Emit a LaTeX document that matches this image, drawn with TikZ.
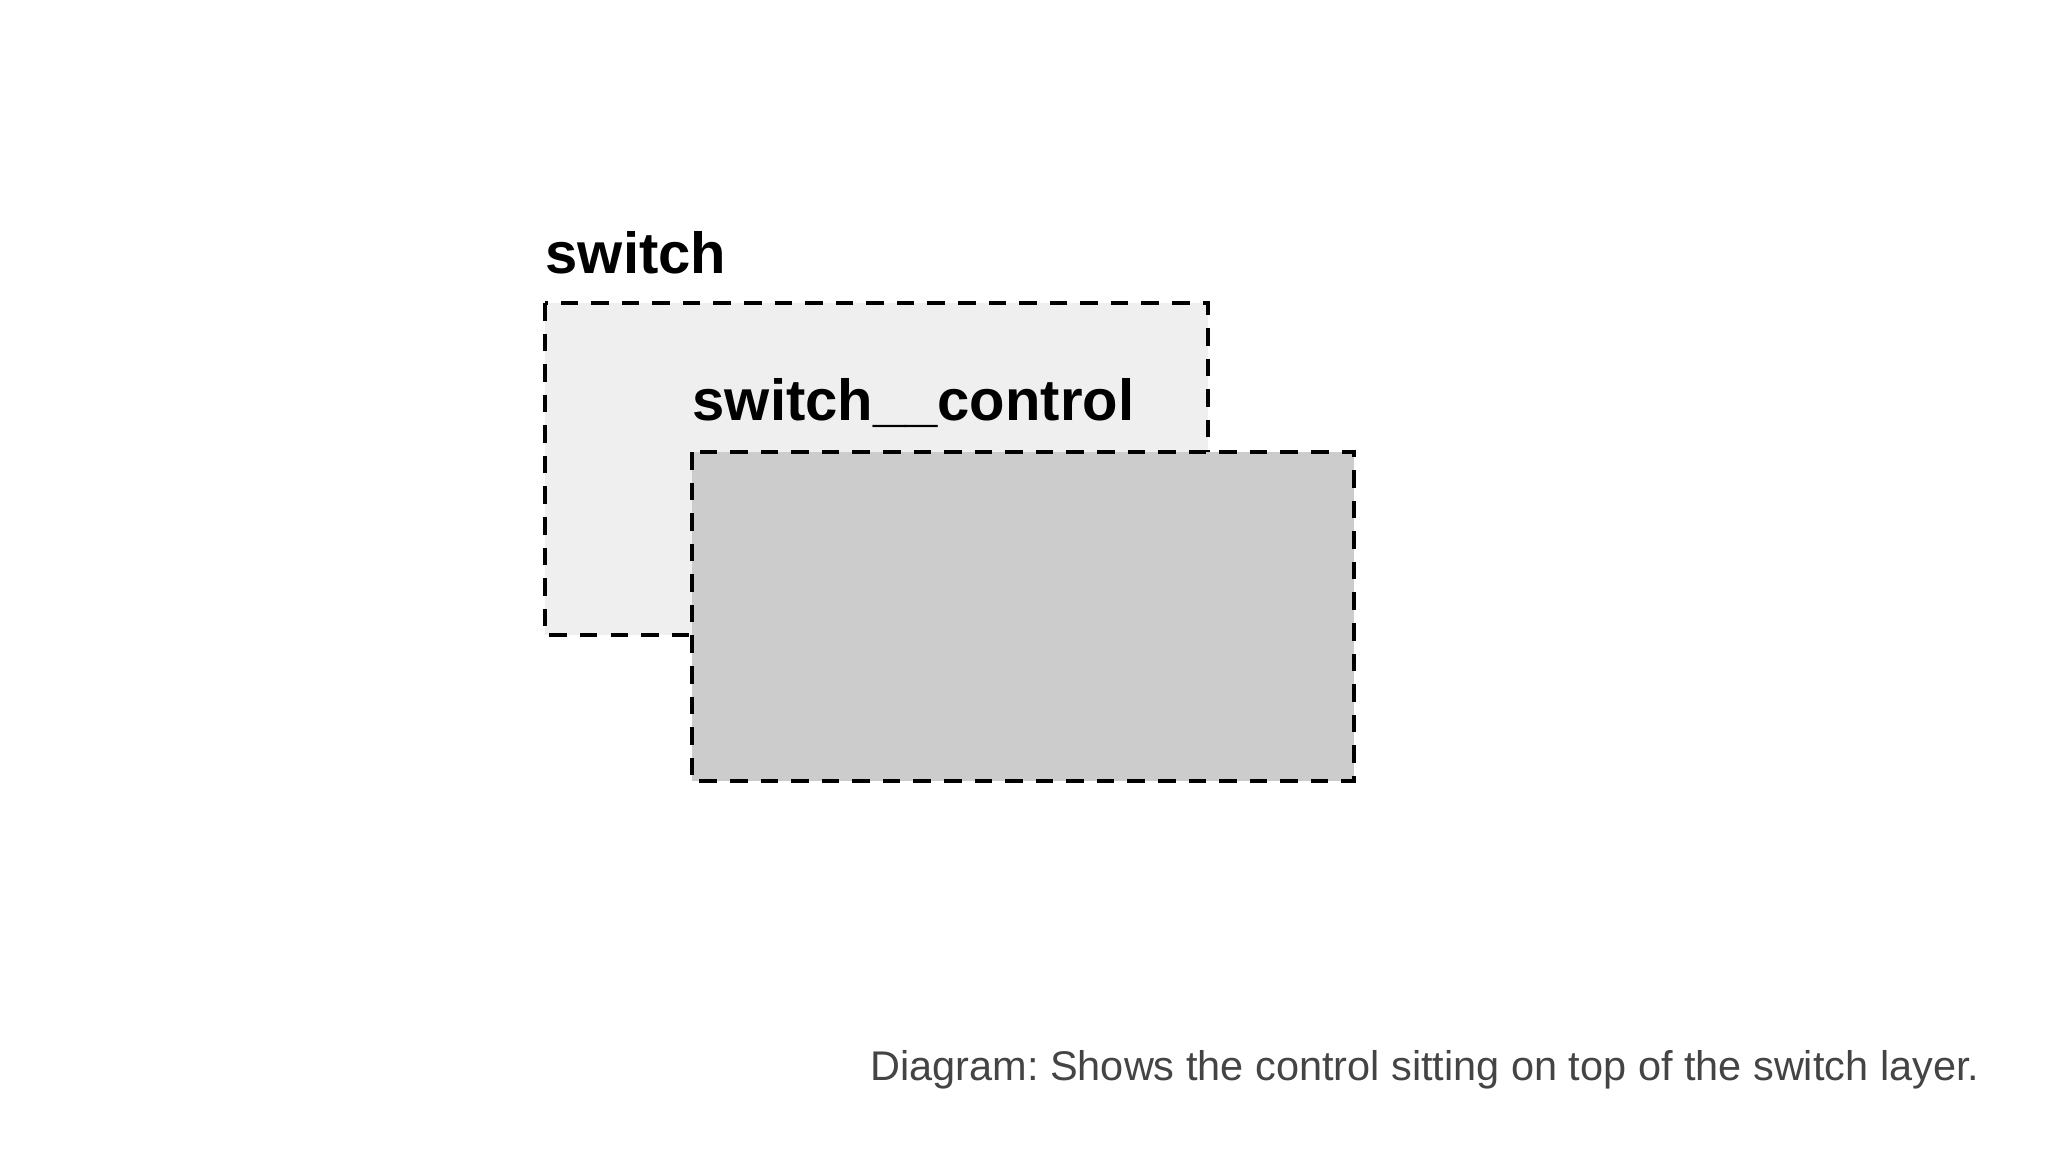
\documentclass[tikz,border=0pt]{standalone}
\usepackage{fontspec}
\setmainfont{Liberation Sans}
\usepackage{xcolor}
\usepackage{tikz}

\definecolor{switchfill}{HTML}{EFEFEF}
\definecolor{controlfill}{HTML}{CCCCCC}
\definecolor{captiongray}{HTML}{444444}

\tikzset{
  layerbox/.style={draw=black, line width=1pt, dash pattern=on 5pt off 3.7pt},
  layerlabel/.style={anchor=base west, inner sep=0pt, font=\fontsize{16.5}{20}\selectfont\bfseries},
  captiontext/.style={anchor=base east, inner sep=0pt, text=captiongray, font=\fontsize{11.8}{14}\selectfont\frenchspacing}
}

\begin{document}
\begin{tikzpicture}
            \useasboundingbox (0.0, 0.0) rectangle (20.48, 11.52);

            \draw[layerbox, fill=switchfill] (5.45, 8.49) rectangle (12.08, 5.17); % switch
            \node[layerlabel] (switchlabel) at (5.45, 8.78) {switch};

            \draw[layerbox, fill=controlfill] (6.92, 7.00) rectangle (13.54, 3.71); % switch__control
            \node[layerlabel] (controllabel) at (6.92, 7.31) {switch\_\_control};

            \node[captiontext] (caption) at (19.80, 0.71) {Diagram: Shows the control sitting on top of the switch layer.};
        \end{tikzpicture}
\end{document}
